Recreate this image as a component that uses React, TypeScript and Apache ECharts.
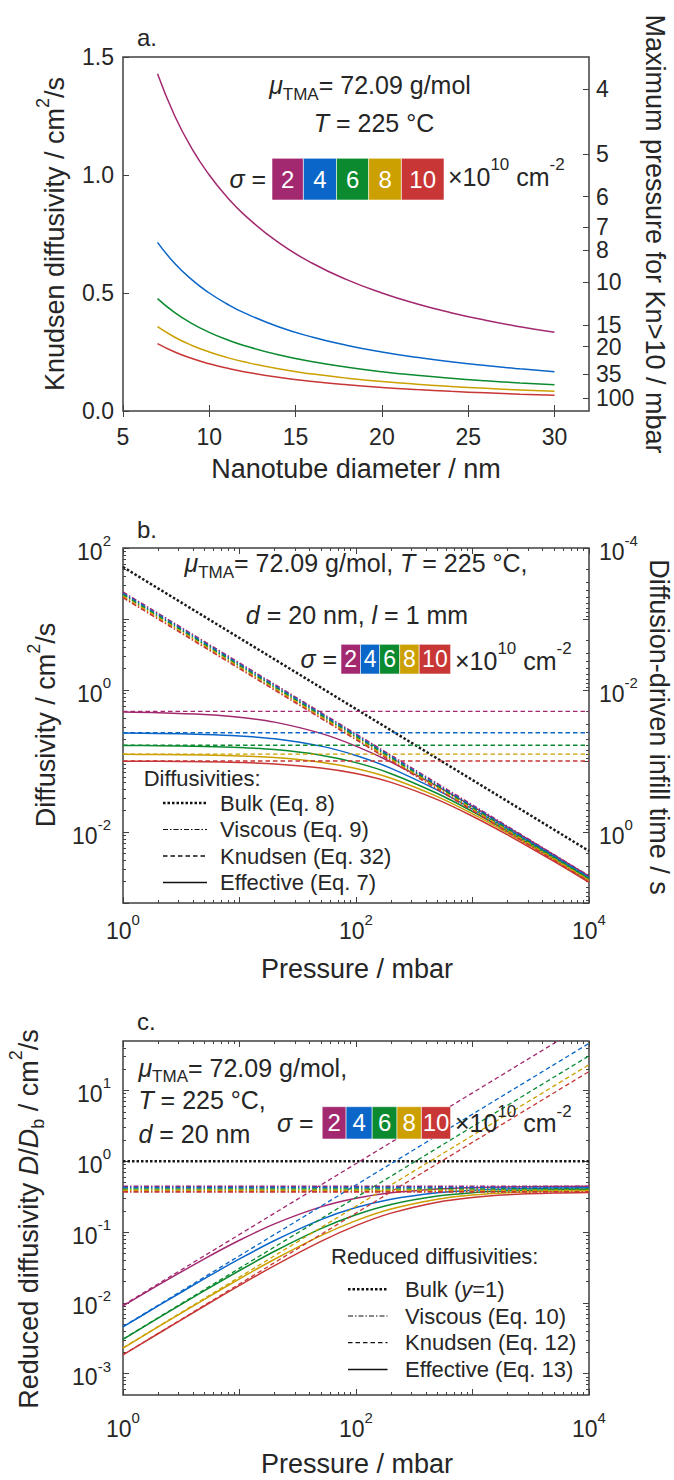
import { useEffect, useRef } from 'react';
import * as echarts from 'echarts';

const FONT = '"Liberation Sans", Arial, Helvetica, sans-serif';
const TXT = '#262626';
const AXC = '#404040';

const SIGMA = [2, 4, 6, 8, 10];
const COLORS = ['#A2296F', '#0A66C8', '#0B8A30', '#CBA000', '#C83636'];

// ---------- panel a ----------
const DIAM = [7, 8, 9, 10, 11, 12, 14, 16, 18, 20, 22, 24, 26, 28, 30];
const KNUD_A_S2 = [1.4286, 1.25, 1.1111, 1.0, 0.9091, 0.8333, 0.7143, 0.625, 0.5556, 0.5, 0.4545, 0.4167, 0.3846, 0.3571, 0.3333];
const KNUD_A_S4 = [0.7143, 0.625, 0.5556, 0.5, 0.4545, 0.4167, 0.3571, 0.3125, 0.2778, 0.25, 0.2273, 0.2083, 0.1923, 0.1786, 0.1667];
const KNUD_A_S6 = [0.4762, 0.4167, 0.3704, 0.3333, 0.303, 0.2778, 0.2381, 0.2083, 0.1852, 0.1667, 0.1515, 0.1389, 0.1282, 0.119, 0.1111];
const KNUD_A_S8 = [0.3571, 0.3125, 0.2778, 0.25, 0.2273, 0.2083, 0.1786, 0.1563, 0.1389, 0.125, 0.1136, 0.1042, 0.0962, 0.0893, 0.0833];
const KNUD_A_S10 = [0.2857, 0.25, 0.2222, 0.2, 0.1818, 0.1667, 0.1429, 0.125, 0.1111, 0.1, 0.0909, 0.0833, 0.0769, 0.0714, 0.0667];
const KNUD_A = [KNUD_A_S2, KNUD_A_S4, KNUD_A_S6, KNUD_A_S8, KNUD_A_S10];
const A_X_TICKS = [5, 10, 15, 20, 25, 30];
const A_Y_TICKS = [0, 0.5, 1.0, 1.5];
const PRESSURE_TICKS = [4, 5, 6, 7, 8, 10, 15, 20, 35, 100];
const KN_D_AT_1MBAR = 5.45;

// ---------- panel b ----------
const PRESSURE = [1, 2, 5, 10, 20, 50, 100, 200, 500, 1000, 2000, 5000, 10000];
const PRESSURE_ENDS = [1, 10000];
const BULK_B = [54, 0.0054];
const VISC_B_S2 = [24, 0.0024];
const VISC_B_S4 = [23, 0.0023];
const VISC_B_S6 = [22, 0.0022];
const VISC_B_S8 = [21, 0.0021];
const VISC_B_S10 = [20, 0.002];
const VISC_B = [VISC_B_S2, VISC_B_S4, VISC_B_S6, VISC_B_S8, VISC_B_S10];
const KNUD_B = [0.5, 0.25, 0.1667, 0.125, 0.1];
const EFF_B_S2 = [0.4898, 0.48, 0.4528, 0.4138, 0.3529, 0.2449, 0.1622, 0.0968, 0.0438, 0.0229, 0.01172, 0.004754, 0.002389];
const EFF_B_S4 = [0.2473, 0.2447, 0.2371, 0.2255, 0.2054, 0.162, 0.1198, 0.0788, 0.03885, 0.02106, 0.01099, 0.004517, 0.002279];
const EFF_B_S6 = [0.1654, 0.1642, 0.1606, 0.1549, 0.1447, 0.1209, 0.0948, 0.06627, 0.03481, 0.01943, 0.01032, 0.004287, 0.002171];
const EFF_B_S8 = [0.1243, 0.1235, 0.1214, 0.118, 0.1117, 0.09633, 0.07836, 0.05707, 0.03144, 0.01798, 0.009686, 0.004063, 0.002065];
const EFF_B_S10 = [0.0995, 0.099, 0.0976, 0.0952, 0.0909, 0.08, 0.0667, 0.05, 0.02857, 0.01667, 0.00909, 0.003846, 0.001961];
const EFF_B = [EFF_B_S2, EFF_B_S4, EFF_B_S6, EFF_B_S8, EFF_B_S10];
const B_X_LABELS = [1, 100, 10000];
const B_Y_LABELS = [0.01, 1, 100];
const B_Y2_LABELS = [1e-4, 1e-2, 1];

// ---------- panel c ----------
const BULK_C = [1, 1];
const VISC_C = [0.444, 0.426, 0.407, 0.389, 0.37];
const KNUD_C_S2 = [0.00926, 92.6];
const KNUD_C_S4 = [0.00463, 46.3];
const KNUD_C_S6 = [0.003086, 30.86];
const KNUD_C_S8 = [0.002315, 23.15];
const KNUD_C_S10 = [0.001852, 18.52];
const KNUD_C = [KNUD_C_S2, KNUD_C_S4, KNUD_C_S6, KNUD_C_S8, KNUD_C_S10];
const EFF_C_S2 = [0.00907, 0.01778, 0.04193, 0.07663, 0.1307, 0.2268, 0.3004, 0.3585, 0.4056, 0.4241, 0.4341, 0.4402, 0.4424];
const EFF_C_S4 = [0.00458, 0.00906, 0.02195, 0.04176, 0.07607, 0.15, 0.2219, 0.2919, 0.3597, 0.39, 0.407, 0.4182, 0.422];
const EFF_C_S6 = [0.003063, 0.006081, 0.01487, 0.02869, 0.05359, 0.1119, 0.1756, 0.2454, 0.3223, 0.3598, 0.3822, 0.3969, 0.402];
const EFF_C_S8 = [0.002302, 0.004574, 0.01124, 0.02185, 0.04137, 0.0892, 0.1451, 0.2114, 0.2911, 0.333, 0.3587, 0.3762, 0.3824];
const EFF_C_S10 = [0.001843, 0.003667, 0.009037, 0.01763, 0.03367, 0.07407, 0.1235, 0.1852, 0.2645, 0.3087, 0.3367, 0.3561, 0.3631];
const EFF_C = [EFF_C_S2, EFF_C_S4, EFF_C_S6, EFF_C_S8, EFF_C_S10];
const C_Y_LABELS = [1e-3, 1e-2, 1e-1, 1, 10];

// ---------- helpers ----------
type AnyObj = Record<string, any>;

function decades(lo: number, hi: number): number[] {
  const out: number[] = [];
  for (let e = Math.ceil(Math.log10(lo) - 1e-9); e <= Math.floor(Math.log10(hi) + 1e-9); e++) out.push(Math.pow(10, e));
  return out;
}
function minors(lo: number, hi: number): number[] {
  const out: number[] = [];
  for (let e = Math.floor(Math.log10(lo)) - 1; e <= Math.ceil(Math.log10(hi)); e++) {
    for (let m = 2; m <= 9; m++) {
      const v = parseFloat((m * Math.pow(10, e)).toPrecision(6));
      if (v > lo * 1.0001 && v < hi * 0.9999) out.push(v);
    }
  }
  return out;
}
const logFmt = (v: number) => '{b|10}{s|' + Math.round(Math.log10(v)) + '}';
const PRESS_POS = PRESSURE_TICKS.map((p) => KN_D_AT_1MBAR / p);
const pressFmt = (v: number) => {
  const i = PRESS_POS.findIndex((x) => Math.abs(x - v) < 1e-9);
  return i >= 0 ? String(PRESSURE_TICKS[i]) : '';
};

const tickRich = {
  b: { fontSize: 23, fontFamily: FONT, color: TXT, padding: [7, 0, 0, 0], verticalAlign: 'bottom' },
  s: { fontSize: 15, fontFamily: FONT, color: TXT, verticalAlign: 'top' },
};

function mkAxis(o: AnyObj): AnyObj {
  const { ticks, tickLen = 6, labels, formatter, margin = 8, rich, lineHeight, ...rest } = o;
  const label: AnyObj = labels
    ? { show: true, customValues: labels, margin, fontSize: 23, fontFamily: FONT, color: TXT, hideOverlap: false }
    : { show: false };
  if (formatter) label.formatter = formatter;
  if (rich) label.rich = rich;
  if (lineHeight) label.lineHeight = lineHeight;
  return {
    ...rest,
    axisLine: { show: false },
    splitLine: { show: false },
    minorTick: { show: false },
    minorSplitLine: { show: false },
    axisTick: ticks
      ? { show: true, inside: true, length: tickLen, lineStyle: { color: AXC, width: 1 }, customValues: ticks }
      : { show: false },
    axisLabel: label,
  };
}

function rs(size: number, extra: AnyObj = {}): AnyObj {
  return { fontSize: size, fontFamily: FONT, fill: TXT, color: TXT, ...extra };
}
const annSubRich = {
  n: rs(25, { padding: [0, 0, 5, 0], verticalAlign: 'bottom' }),
  i: rs(25, { fontStyle: 'italic', padding: [0, 0, 5, 0], verticalAlign: 'bottom' }),
  sub: rs(17, { verticalAlign: 'bottom' }),
};
const plainRich = {
  n: rs(25, { verticalAlign: 'middle' }),
  i: rs(25, { fontStyle: 'italic', verticalAlign: 'middle' }),
};
const supRich = {
  n: rs(25, { padding: [8, 0, 0, 0], verticalAlign: 'bottom' }),
  s: rs(17, { verticalAlign: 'top' }),
};
const legendRich = {
  n: rs(22, { verticalAlign: 'middle' }),
  i: rs(22, { fontStyle: 'italic', verticalAlign: 'middle' }),
};
const titleSupRich = {
  n: rs(27, { padding: [8, 0, 0, 0], verticalAlign: 'bottom' }),
  s: rs(18, { verticalAlign: 'top' }),
};
const titleSubSupRich = {
  n: rs(27, { padding: [8, 0, 5, 0], verticalAlign: 'middle' }),
  i: rs(27, { fontStyle: 'italic', padding: [8, 0, 5, 0], verticalAlign: 'middle' }),
  s: rs(18, { verticalAlign: 'top' }),
  sub: rs(18, { verticalAlign: 'bottom' }),
};

function txt(x: number, y: number, text: string, opts: AnyObj = {}, extra: AnyObj = {}): AnyObj {
  const align = opts.align || 'left';
  return {
    type: 'text',
    x,
    y,
    silent: true,
    z: 20,
    ...extra,
    style: {
      text,
      fill: TXT,
      fontFamily: FONT,
      fontSize: 25,
      ...opts,
      align,
      textAlign: align,
      verticalAlign: 'middle',
      textVerticalAlign: 'middle',
    },
  };
}

function sigmaLegend(eqRight: number, cy: number, edges: number[], top: number, h: number, boxFont: number, supLeft: number, supY: number): AnyObj[] {
  const els: AnyObj[] = [];
  els.push(txt(eqRight, cy, '{i|σ}{n| =}', { align: 'right', rich: plainRich }));
  SIGMA.forEach((s, i) => {
    els.push({
      type: 'rect',
      silent: true,
      z: 20,
      shape: { x: edges[i], y: top, width: edges[i + 1] - edges[i], height: h },
      style: { fill: COLORS[i], stroke: 'rgba(255,255,255,0.55)', lineWidth: 1 },
    });
    els.push(txt((edges[i] + edges[i + 1]) / 2, top + h / 2, String(s), { align: 'center', fill: '#ffffff', fontSize: boxFont }, { z: 21 }));
  });
  els.push(txt(supLeft, supY, '{n|×10}{s|10}{n| cm}{s|-2}', { rich: supRich }));
  return els;
}

function legendBlock(headerX: number, headerY: number, header: string, rows: number[], x1: number, x2: number, textX: number, items: string[]): AnyObj[] {
  const styles = [
    { lineWidth: 2.5, lineDash: [2.5, 2] },
    { lineWidth: 1.2, lineDash: [5, 2, 1.5, 2] },
    { lineWidth: 1.3, lineDash: [4.5, 3] },
    { lineWidth: 1.5 },
  ];
  const els: AnyObj[] = [txt(headerX, headerY, header, { fontSize: 22 })];
  rows.forEach((y, i) => {
    els.push({
      type: 'line',
      silent: true,
      z: 20,
      shape: { x1, y1: y, x2, y2: y },
      style: { stroke: '#111111', ...styles[i] },
    });
    els.push(txt(textX, y, items[i], { rich: legendRich }));
  });
  return els;
}

const lineBase = { type: 'line', showSymbol: false, symbol: 'none', silent: true, emphasis: { disabled: true }, clip: true };

export default function App() {
  const ref = useRef<HTMLDivElement>(null);

  useEffect(() => {
    if (!ref.current) return;
    const chart = echarts.init(ref.current, undefined, { renderer: 'svg' });

    const decX = decades(1, 1e4);
    const minX = minors(1, 1e4);
    const decYb = decades(1e-3, 1e2);
    const minYb = minors(1e-3, 1e2);
    const decYb2 = decades(1e-4, 1e1);
    const minYb2 = minors(1e-4, 1e1);
    const decYc = decades(5e-4, 50);
    const minYc = minors(5e-4, 50);

    const gridBase = { show: true, borderColor: AXC, borderWidth: 1.5, backgroundColor: 'transparent', containLabel: false, outerBoundsMode: 'none' };

    const xAxis = [
      mkAxis({ gridIndex: 0, type: 'value', min: 5, max: 32, position: 'bottom', ticks: A_X_TICKS, labels: A_X_TICKS, margin: 14 }),
      mkAxis({ gridIndex: 0, type: 'value', min: 5, max: 32, position: 'top', ticks: A_X_TICKS }),
      mkAxis({ gridIndex: 1, type: 'log', min: 1, max: 1e4, position: 'bottom', ticks: decX, labels: B_X_LABELS, formatter: logFmt, rich: tickRich, margin: 9 }),
      mkAxis({ gridIndex: 1, type: 'log', min: 1, max: 1e4, position: 'top', ticks: decX }),
      mkAxis({ gridIndex: 1, type: 'log', min: 1, max: 1e4, position: 'bottom', ticks: minX, tickLen: 3 }),
      mkAxis({ gridIndex: 1, type: 'log', min: 1, max: 1e4, position: 'top', ticks: minX, tickLen: 3 }),
      mkAxis({ gridIndex: 2, type: 'log', min: 1, max: 1e4, position: 'bottom', ticks: decX, labels: B_X_LABELS, formatter: logFmt, rich: tickRich, margin: 15 }),
      mkAxis({ gridIndex: 2, type: 'log', min: 1, max: 1e4, position: 'top', ticks: decX }),
      mkAxis({ gridIndex: 2, type: 'log', min: 1, max: 1e4, position: 'bottom', ticks: minX, tickLen: 3 }),
      mkAxis({ gridIndex: 2, type: 'log', min: 1, max: 1e4, position: 'top', ticks: minX, tickLen: 3 }),
    ];
    const yAxis = [
      mkAxis({ gridIndex: 0, type: 'value', min: 0, max: 1.5, position: 'left', ticks: A_Y_TICKS, labels: A_Y_TICKS, formatter: (v: number) => v.toFixed(1), margin: 9 }),
      mkAxis({ gridIndex: 0, type: 'value', min: 0, max: 1.5, position: 'right', ticks: PRESS_POS, labels: PRESS_POS, formatter: pressFmt, margin: 7, lineHeight: 19 }),
      mkAxis({ gridIndex: 1, type: 'log', min: 1e-3, max: 1e2, position: 'left', ticks: decYb, labels: B_Y_LABELS, formatter: logFmt, rich: tickRich, margin: 12 }),
      mkAxis({ gridIndex: 1, type: 'log', min: 1e-3, max: 1e2, position: 'left', ticks: minYb, tickLen: 3 }),
      mkAxis({ gridIndex: 1, type: 'log', min: 1e-4, max: 1e1, inverse: true, position: 'right', ticks: decYb2, labels: B_Y2_LABELS, formatter: logFmt, rich: tickRich, margin: 10 }),
      mkAxis({ gridIndex: 1, type: 'log', min: 1e-4, max: 1e1, inverse: true, position: 'right', ticks: minYb2, tickLen: 3 }),
      mkAxis({ gridIndex: 2, type: 'log', min: 5e-4, max: 50, position: 'left', ticks: decYc, labels: C_Y_LABELS, formatter: logFmt, rich: tickRich, margin: 12 }),
      mkAxis({ gridIndex: 2, type: 'log', min: 5e-4, max: 50, position: 'left', ticks: minYc, tickLen: 3 }),
      mkAxis({ gridIndex: 2, type: 'log', min: 5e-4, max: 50, position: 'right', ticks: decYc }),
      mkAxis({ gridIndex: 2, type: 'log', min: 5e-4, max: 50, position: 'right', ticks: minYc, tickLen: 3 }),
    ];

    const series: AnyObj[] = [];
    // a
    KNUD_A.forEach((arr, i) => {
      series.push({ ...lineBase, xAxisIndex: 0, yAxisIndex: 0, smooth: true, data: DIAM.map((d, k) => [d, arr[k]]), lineStyle: { color: COLORS[i], width: 1.5 } });
    });
    // b
    series.push({ ...lineBase, xAxisIndex: 2, yAxisIndex: 2, data: PRESSURE_ENDS.map((p, k) => [p, BULK_B[k]]), lineStyle: { color: '#1a1a1a', width: 2.5, type: [2.5, 2] } });
    EFF_B.forEach((arr, i) => {
      series.push({ ...lineBase, xAxisIndex: 2, yAxisIndex: 2, smooth: 0.3, data: PRESSURE.map((p, k) => [p, arr[k]]), lineStyle: { color: COLORS[i], width: 1.5 } });
    });
    KNUD_B.forEach((v, i) => {
      series.push({ ...lineBase, xAxisIndex: 2, yAxisIndex: 2, data: PRESSURE_ENDS.map((p) => [p, v]), lineStyle: { color: COLORS[i], width: 1.3, type: [4.5, 3] } });
    });
    VISC_B.forEach((arr, i) => {
      series.push({ ...lineBase, xAxisIndex: 2, yAxisIndex: 2, data: PRESSURE_ENDS.map((p, k) => [p, arr[k]]), lineStyle: { color: COLORS[i], width: 1.6, type: [5, 2, 1.5, 2] } });
    });
    // c
    series.push({ ...lineBase, xAxisIndex: 6, yAxisIndex: 6, data: PRESSURE_ENDS.map((p, k) => [p, BULK_C[k]]), lineStyle: { color: '#1a1a1a', width: 2.5, type: [2.5, 2] } });
    EFF_C.forEach((arr, i) => {
      series.push({ ...lineBase, xAxisIndex: 6, yAxisIndex: 6, smooth: 0.3, data: PRESSURE.map((p, k) => [p, arr[k]]), lineStyle: { color: COLORS[i], width: 1.5 } });
    });
    KNUD_C.forEach((arr, i) => {
      series.push({ ...lineBase, xAxisIndex: 6, yAxisIndex: 6, data: PRESSURE_ENDS.map((p, k) => [p, arr[k]]), lineStyle: { color: COLORS[i], width: 1.3, type: [4.5, 3] } });
    });
    VISC_C.forEach((v, i) => {
      series.push({ ...lineBase, xAxisIndex: 6, yAxisIndex: 6, data: PRESSURE_ENDS.map((p) => [p, v]), lineStyle: { color: COLORS[i], width: 1.6, type: [5, 2, 1.5, 2] } });
    });

    const R90 = Math.PI / 2;
    const graphics: AnyObj[] = [
      // panel labels
      txt(137, 37, 'a.', { fontSize: 24 }),
      txt(137, 529.5, 'b.', { fontSize: 24 }),
      txt(137, 1021.5, 'c.', { fontSize: 24 }),
      // axis titles
      txt(51, 234, '{n|Knudsen diffusivity / cm}{s|2}{n|/s}', { align: 'center', rich: titleSupRich }, { rotation: R90 }),
      txt(655, 234, 'Maximum pressure for Kn>10 / mbar', { align: 'center', fontSize: 27 }, { rotation: -R90 }),
      txt(356, 469, 'Nanotube diameter / nm', { align: 'center', fontSize: 27 }),
      txt(42.4, 725, '{n|Diffusivity / cm}{s|2}{n|/s}', { align: 'center', rich: titleSupRich }, { rotation: R90 }),
      txt(659, 727, 'Diffusion-driven infill time / s', { align: 'center', fontSize: 27 }, { rotation: -R90 }),
      txt(357, 969, 'Pressure / mbar', { align: 'center', fontSize: 27 }),
      txt(27, 1219, '{n|Reduced diffusivity }{i|D}{n|/}{i|D}{sub|b}{n| / cm}{s|2}{n|/s}', { align: 'center', rich: titleSubSupRich }, { rotation: R90 }),
      txt(357, 1464, 'Pressure / mbar', { align: 'center', fontSize: 27 }),
      // panel a annotations
      txt(370, 87.5, '{i|μ}{sub|TMA}{n|= 72.09 g/mol}', { align: 'center', rich: annSubRich }),
      txt(374, 123.3, '{i|T}{n| = 225 °C}', { align: 'center', rich: plainRich }),
      ...sigmaLegend(266, 179, [272, 303.4, 336.5, 368.7, 401.4, 444], 158.3, 41.7, 24, 448, 172.7),
      // panel b annotations
      txt(356, 565.5, '{i|μ}{sub|TMA}{n|= 72.09 g/mol, }{i|T}{n| = 225 °C,}', { align: 'center', rich: annSubRich }),
      txt(357, 615, '{i|d}{n| = 20 nm, }{i|l}{n| = 1 mm}', { align: 'center', rich: plainRich }),
      ...sigmaLegend(337, 659, [341, 360.5, 379.6, 399.7, 419.2, 450.6], 644.3, 29.7, 23, 455, 656.5),
      ...legendBlock(143.7, 778, 'Diffusivities:', [803, 829.5, 856, 882.5], 163, 207, 220, [
        '{n|Bulk (Eq. 8)}',
        '{n|Viscous (Eq. 9)}',
        '{n|Knudsen (Eq. 32)}',
        '{n|Effective (Eq. 7)}',
      ]),
      // panel c annotations
      txt(138.4, 1070, '{i|μ}{sub|TMA}{n|= 72.09 g/mol,}', { rich: annSubRich }),
      txt(138.4, 1100, '{i|T}{n| = 225 °C,}', { rich: plainRich }),
      txt(138.4, 1133.7, '{i|d}{n| = 20 nm}', { rich: plainRich }),
      ...sigmaLegend(313.5, 1123, [322.2, 346.1, 372.2, 397, 421.4, 450.6], 1106.7, 32.3, 24, 455, 1119),
      ...legendBlock(331, 1256.7, 'Reduced diffusivities:', [1289.3, 1316, 1342.7, 1369.4], 348, 387.5, 405, [
        '{n|Bulk (}{i|y}{n|=1)}',
        '{n|Viscous (Eq. 10)}',
        '{n|Knudsen (Eq. 12)}',
        '{n|Effective (Eq. 13)}',
      ]),
    ];

    chart.setOption({
      animation: false,
      backgroundColor: '#ffffff',
      textStyle: { fontFamily: FONT, color: TXT },
      grid: [
        { ...gridBase, left: 123, top: 57, width: 466, height: 354 },
        { ...gridBase, left: 123, top: 548, width: 466, height: 355 },
        { ...gridBase, left: 123, top: 1041, width: 466, height: 354 },
      ],
      xAxis,
      yAxis,
      series,
      graphic: { elements: graphics },
    });

    return () => {
      chart.dispose();
    };
  }, []);

  return <div ref={ref} style={{ position: 'absolute', left: 0, top: 0, width: 674, height: 1480, background: '#fff' }} />;
}
